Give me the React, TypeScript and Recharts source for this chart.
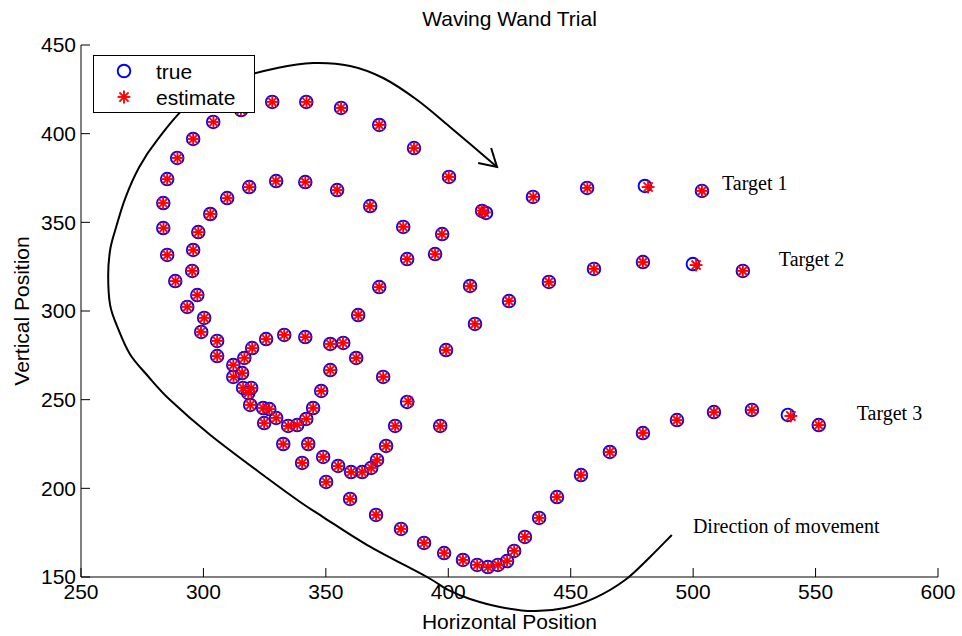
import React from 'react';
import { ScatterChart, Scatter, XAxis, YAxis, Legend, Customized } from 'recharts';

// ---- data ----
const trueX = [
  283.6, 283.6, 285.2, 289.3, 295.8, 304.0, 315.4, 328.1, 342.0, 356.2, 371.8, 386.0, 400.3, 413.8, 434.6, 456.7, 480.3, 503.6,
  285.2, 288.5, 293.4, 299.1, 305.6, 312.2,
  295.8, 297.9, 302.8, 309.7, 318.7, 329.7, 341.6, 354.6, 368.1, 381.6, 397.5, 394.6, 383.2, 371.8, 363.2, 357.1, 351.8,
  362.4, 351.8, 348.1, 344.8, 342.0, 338.3, 334.6, 329.7, 326.9, 324.4, 324.8, 319.1, 318.3, 316.2, 319.5, 315.8, 312.2,
  316.7, 319.9, 325.6, 333.0, 341.6,
  295.4, 297.5, 300.3, 305.6,
  415.4, 332.6, 342.8, 340.3, 348.9, 355.0, 360.3, 364.8, 368.5, 370.9, 374.6, 378.3, 383.2, 373.4, 396.7, 399.1, 410.9,
  408.9, 424.8, 441.1, 459.5, 479.5, 499.9, 520.3,
  350.1, 359.9, 370.5, 380.7, 390.1, 398.3, 406.0, 411.8, 416.2, 420.3, 424.0, 426.9, 431.3, 437.1, 444.4, 454.2, 466.0,
  479.5, 493.4, 508.5, 524.0, 538.7, 551.3,
];
const trueY = [
  346.8, 360.9, 374.4, 386.3, 397.0, 406.6, 413.3, 417.9, 417.9, 414.5, 404.9, 391.9, 375.6, 356.4, 364.3, 369.4, 370.5, 367.7,
  331.6, 316.9, 302.3, 288.2, 274.6, 262.8,
  334.4, 344.5, 354.7, 363.7, 369.9, 373.3, 372.7, 368.2, 359.2, 347.4, 343.4, 332.1, 329.3, 313.5, 297.7, 282.0, 281.4,
  273.5, 266.7, 254.9, 245.3, 239.1, 235.7, 235.2, 239.7, 244.7, 245.3, 236.8, 247.0, 253.8, 256.6, 256.6, 265.0, 269.5,
  273.5, 279.1, 284.2, 286.5, 285.3,
  322.6, 309.0, 296.1, 283.1,
  355.3, 225.0, 225.0, 214.3, 217.7, 212.6, 209.2, 209.2, 211.5, 216.0, 223.9, 235.2, 248.7, 262.8, 235.2, 278.0, 292.7,
  314.1, 305.6, 316.4, 323.7, 327.6, 326.5, 322.6,
  203.6, 194.0, 185.0, 177.1, 169.2, 163.5, 159.6, 156.8, 155.6, 156.8, 159.0, 164.7, 172.6, 183.3, 195.1, 207.5, 220.5,
  231.2, 238.5, 243.0, 244.2, 241.4, 235.7,
];
const estX = [
  283.7, 283.5, 285.2, 289.4, 295.8, 304.1, 315.3, 328.1, 342.1, 356.2, 371.8, 386.0, 400.2, 413.6, 434.7, 456.8, 481.6, 503.6,
  285.2, 288.6, 293.4, 299.0, 305.6, 312.3,
  295.8, 297.9, 302.8, 309.8, 318.7, 329.6, 341.6, 354.6, 368.0, 381.6, 397.4, 394.6, 383.2, 371.8, 363.2, 357.0, 351.8,
  362.4, 351.8, 348.1, 344.8, 342.0, 338.3, 334.6, 329.7, 326.9, 324.4, 324.8, 319.1, 318.3, 316.2, 319.5, 315.8, 312.2,
  316.7, 319.9, 325.6, 333.0, 341.6,
  295.4, 297.5, 300.3, 305.6,
  414.8, 332.6, 342.8, 340.3, 348.9, 355.0, 360.3, 364.8, 368.5, 370.9, 374.6, 378.3, 383.6, 373.4, 396.7, 399.1, 410.9,
  408.9, 424.8, 441.1, 459.5, 479.5, 501.2, 520.3,
  350.1, 359.9, 370.5, 380.7, 390.1, 398.3, 406.0, 411.8, 416.2, 420.3, 424.0, 426.9, 431.3, 437.1, 444.4, 454.2, 466.0,
  479.5, 493.4, 508.5, 524.0, 539.9, 551.3,
];
const estY = [
  346.8, 360.9, 374.4, 386.3, 397.0, 406.6, 413.3, 417.9, 417.9, 414.5, 404.9, 391.9, 375.6, 356.6, 364.3, 369.4, 369.9, 367.7,
  331.6, 316.9, 302.3, 288.2, 274.6, 262.8,
  334.4, 344.5, 354.7, 363.7, 369.9, 373.3, 372.7, 368.2, 359.2, 347.4, 343.4, 332.1, 329.3, 313.5, 297.7, 282.0, 281.4,
  273.5, 266.7, 254.9, 245.3, 239.1, 235.7, 235.2, 239.7, 244.7, 245.3, 236.8, 247.0, 253.8, 256.6, 256.6, 265.0, 269.5,
  273.5, 279.1, 284.2, 286.5, 285.3,
  322.6, 309.0, 296.1, 283.1,
  355.6, 225.0, 225.0, 214.3, 217.7, 212.6, 209.2, 209.2, 211.5, 216.0, 223.9, 235.2, 249.0, 262.8, 235.2, 278.0, 292.7,
  314.1, 305.6, 316.4, 323.7, 327.6, 325.9, 322.6,
  203.6, 194.0, 185.0, 177.1, 169.2, 163.5, 159.6, 156.8, 155.6, 156.8, 159.0, 164.7, 172.6, 183.3, 195.1, 207.5, 220.5,
  231.2, 238.5, 243.0, 244.2, 240.8, 235.7,
];

const xTicks = [250, 300, 350, 400, 450, 500, 550, 600];
const yTicks = [150, 200, 250, 300, 350, 400, 450];

// hand-drawn "direction of movement" arrow, in data units
const arrowCurveX = [491.3, 482.4, 472.2, 459.9, 447.7, 434.6, 421.1, 408.9, 399.9, 391.3, 366.9, 348.9, 339.5, 326.0, 302.8,
  286.4, 277.4, 270.0, 264.9, 261.9, 261.1, 261.9, 264.0, 268.1, 273.8, 281.1, 294.6, 313.8, 330.1, 344.8, 359.9, 373.4, 387.3, 400.7, 419.9];
const arrowCurveY = [173.7, 161.3, 148.3, 138.2, 132.5, 130.8, 133.1, 137.6, 142.7, 150.0, 168.0, 183.8, 192.3, 205.8, 230.1,
  249.8, 263.2, 275.6, 290.9, 303.3, 320.0, 334.4, 345.7, 363.7, 381.2, 396.4, 417.3, 430.8, 437.0, 439.8, 438.2, 431.4, 419.0, 403.8, 381.2];
const arrowHeadX = [412.2, 419.9, 417.5];
const arrowHeadY = [383.5, 381.2, 391.9];

const annotations = [
  { text: 'Target 1', x: 511.8, y: 368.2 },
  { text: 'Target 2', x: 535.0, y: 325.4 },
  { text: 'Target 3', x: 566.8, y: 238.5 },
  { text: 'Direction of movement', x: 499.9, y: 174.8 },
];

// ---- layout ----
const W = 962;
const H = 636;
const MARGIN = { top: 45, right: 24, left: 0, bottom: 0 };
const Y_AXIS_W = 81;
const X_AXIS_H = 59;
const PLOT = { left: 81, top: 45, width: 857, height: 532 };
const X_DOMAIN = [250, 600];
const Y_DOMAIN = [150, 450];
const sx = (x: number) => PLOT.left + ((x - X_DOMAIN[0]) / (X_DOMAIN[1] - X_DOMAIN[0])) * PLOT.width;
const sy = (y: number) => PLOT.top + ((Y_DOMAIN[1] - y) / (Y_DOMAIN[1] - Y_DOMAIN[0])) * PLOT.height;

const SANS = 'Liberation Sans, Arial, Helvetica, sans-serif';
const SERIF = 'Liberation Serif, Times New Roman, serif';
const BLUE = '#0000FF';
const RED = '#FF0000';

const trueData = trueX.map((x, i) => ({ x, y: trueY[i] }));
const estData = estX.map((x, i) => ({ x, y: estY[i] }));

const CircleMark = (props: any) => {
  const { cx, cy } = props;
  if (cx == null || cy == null) return null;
  return <circle cx={cx} cy={cy} r={6.3} fill="none" stroke={BLUE} strokeWidth={1.9} />;
};

const StarMark = (props: any) => {
  const { cx, cy } = props;
  if (cx == null || cy == null) return null;
  const r = 6.4;
  const d = 4.6;
  return (
    <g stroke={RED} strokeWidth={1.9}>
      <line x1={cx - r} y1={cy} x2={cx + r} y2={cy} />
      <line x1={cx} y1={cy - r} x2={cx} y2={cy + r} />
      <line x1={cx - d} y1={cy - d} x2={cx + d} y2={cy + d} />
      <line x1={cx - d} y1={cy + d} x2={cx + d} y2={cy - d} />
    </g>
  );
};

function smoothPath(pts: [number, number][]) {
  let d = `M${pts[0][0]},${pts[0][1]}`;
  for (let i = 0; i < pts.length - 1; i++) {
    const p0 = pts[i - 1] || pts[i];
    const p1 = pts[i];
    const p2 = pts[i + 1];
    const p3 = pts[i + 2] || p2;
    const c1x = p1[0] + (p2[0] - p0[0]) / 6;
    const c1y = p1[1] + (p2[1] - p0[1]) / 6;
    const c2x = p2[0] - (p3[0] - p1[0]) / 6;
    const c2y = p2[1] - (p3[1] - p1[1]) / 6;
    d += ` C${c1x},${c1y} ${c2x},${c2y} ${p2[0]},${p2[1]}`;
  }
  return d;
}

const Overlay = () => {
  const curve = arrowCurveX.map((x, i) => [sx(x), sy(arrowCurveY[i])] as [number, number]);
  const head = arrowHeadX.map((x, i) => `${sx(x)},${sy(arrowHeadY[i])}`).join(' ');
  return (
    <g>
      <text x={PLOT.left + PLOT.width / 2} y={26} textAnchor="middle" fontFamily={SANS} fontSize={21} fill="#000">
        Waving Wand Trial
      </text>
      <text x={PLOT.left + PLOT.width / 2} y={629} textAnchor="middle" fontFamily={SANS} fontSize={21} fill="#000">
        Horizontal Position
      </text>
      <text
        x={0}
        y={0}
        transform={`translate(29, ${PLOT.top + PLOT.height / 2}) rotate(-90)`}
        textAnchor="middle"
        fontFamily={SANS}
        fontSize={21}
        fill="#000"
      >
        Vertical Position
      </text>
      <path d={smoothPath(curve)} fill="none" stroke="#000" strokeWidth={2} />
      <polyline points={head} fill="none" stroke="#000" strokeWidth={2} />
      {annotations.map((a) => (
        <text key={a.text} x={sx(a.x)} y={sy(a.y)} fontFamily={SERIF} fontSize={20} fill="#000">
          {a.text}
        </text>
      ))}
    </g>
  );
};

const LegendBox = () => (
  <svg width={162} height={58} style={{ display: 'block' }}>
    <rect x={0.5} y={0.5} width={161} height={57} fill="#fff" stroke="#000" strokeWidth={1} />
    <CircleMark cx={31} cy={16} />
    <text x={63} y={23.5} fontFamily={SANS} fontSize={21} fill="#000">true</text>
    <StarMark cx={31} cy={42} />
    <text x={63} y={49.5} fontFamily={SANS} fontSize={21} fill="#000">estimate</text>
  </svg>
);

export default function App() {
  return (
    <div style={{ position: 'absolute', left: 0, top: 0, width: W, height: H, background: '#fff' }}>
      <ScatterChart width={W} height={H} margin={MARGIN}>
        <XAxis
          type="number"
          dataKey="x"
          domain={X_DOMAIN}
          ticks={xTicks}
          interval={0}
          height={X_AXIS_H}
          tickSize={-9}
          tickMargin={16}
          axisLine={{ stroke: '#000', strokeWidth: 1 }}
          tickLine={{ stroke: '#000', strokeWidth: 1 }}
          tick={{ fill: '#000', fontSize: 21, fontFamily: SANS }}
        />
        <YAxis
          type="number"
          dataKey="y"
          domain={Y_DOMAIN}
          ticks={yTicks}
          interval={0}
          width={Y_AXIS_W}
          tickSize={-9}
          tickMargin={14}
          axisLine={{ stroke: '#000', strokeWidth: 1 }}
          tickLine={{ stroke: '#000', strokeWidth: 1 }}
          tick={{ fill: '#000', fontSize: 21, fontFamily: SANS }}
        />
        <Customized component={Overlay} />
        <Scatter name="true" data={trueData} shape={CircleMark} isAnimationActive={false} />
        <Scatter name="estimate" data={estData} shape={StarMark} isAnimationActive={false} />
        <Legend
          layout="horizontal"
          align="center"
          verticalAlign="middle"
          wrapperStyle={{ left: 93, top: 55, width: 162, height: 58 }}
          content={LegendBox}
        />
      </ScatterChart>
    </div>
  );
}
